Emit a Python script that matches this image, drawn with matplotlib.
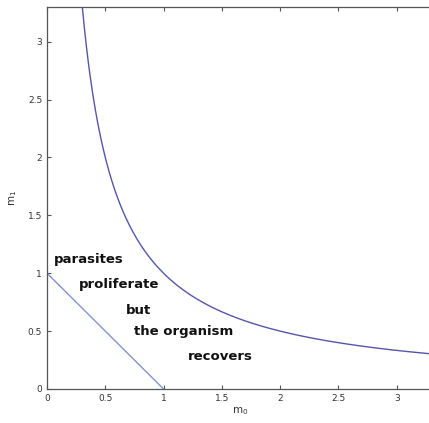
import matplotlib
matplotlib.use('Agg')
import matplotlib.pyplot as plt
import numpy as np

# boundary curves
m0_curve = np.linspace(0.29, 3.4, 400)
m1_curve = 1.0 / m0_curve          # m0 * m1 = 1
line_m0 = [0, 1]
line_m1 = [1, 0]                   # m0 + m1 = 1

# labels
labels = ['parasites', 'proliferate', 'but', 'the organism', 'recovers']
label_x = [0.06, 0.27, 0.68, 0.75, 1.21]
label_y = [1.12, 0.90, 0.68, 0.50, 0.285]

xticks = [0, 0.5, 1, 1.5, 2, 2.5, 3]
yticks = [0, 0.5, 1, 1.5, 2, 2.5, 3]

fig = plt.figure(figsize=(4.29, 4.23), dpi=100)
ax = fig.add_axes([0.1096, 0.0804, 0.902, 0.903])

ax.plot(m0_curve, m1_curve, color='#5555aa', linewidth=1.0)
ax.plot(line_m0, line_m1, color='#8294cf', linewidth=1.0)

for t, x, y in zip(labels, label_x, label_y):
    ax.text(x, y, t, fontsize=9.5, fontweight='bold', ha='left', va='center',
            color='#111111')

ax.set_xlim(0, 3.32)
ax.set_ylim(0, 3.3)
ax.set_xticks(xticks)
ax.set_yticks(yticks)
ax.set_xticklabels(['0', '0.5', '1', '1.5', '2', '2.5', '3'])
ax.set_yticklabels(['0', '0.5', '1', '1.5', '2', '2.5', '3'])
ax.tick_params(direction='in', top=True, right=True, length=3, width=0.8,
               labelsize=6.5, labelcolor='#333333', color='#555555')
for s in ax.spines.values():
    s.set_color('#555555')
    s.set_linewidth(0.9)

ax.set_xlabel('$\\mathregular{m_0}$', fontsize=7.5, color='#333333', labelpad=2)
ax.set_ylabel('$\\mathregular{m_1}$', fontsize=7.5, color='#333333', labelpad=6)

fig.savefig('out.png', dpi=100)
